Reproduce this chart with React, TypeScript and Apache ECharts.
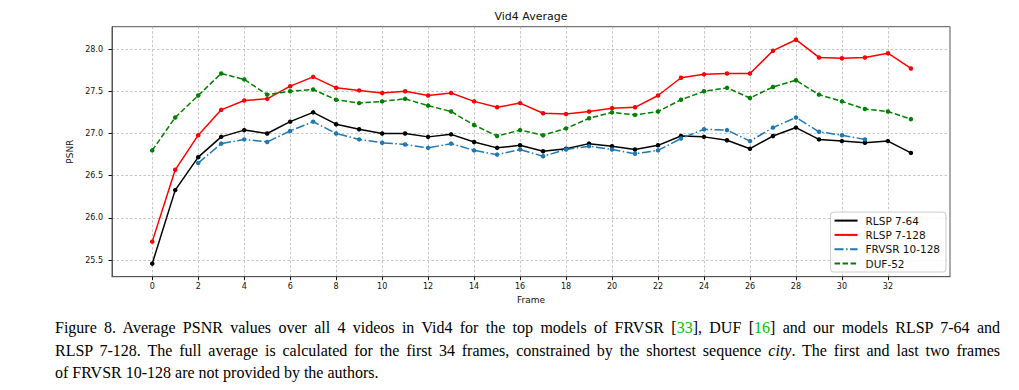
import React, { useEffect, useRef } from "react";
import * as echarts from "echarts";

const frames = [0, 1, 2, 3, 4, 5, 6, 7, 8, 9, 10, 11, 12, 13, 14, 15, 16, 17, 18, 19, 20, 21, 22, 23, 24, 25, 26, 27, 28, 29, 30, 31, 32, 33];

const rlsp764 = [25.46, 26.33, 26.72, 26.96, 27.04, 27.0, 27.14, 27.25, 27.11, 27.05, 27.0, 27.0, 26.96, 26.99, 26.9, 26.83, 26.86, 26.79, 26.82, 26.88, 26.85, 26.81, 26.86, 26.97, 26.96, 26.92, 26.82, 26.97, 27.07, 26.93, 26.91, 26.89, 26.91, 26.77];
const rlsp7128 = [25.72, 26.57, 26.98, 27.28, 27.39, 27.41, 27.56, 27.67, 27.54, 27.51, 27.48, 27.5, 27.45, 27.48, 27.38, 27.31, 27.36, 27.24, 27.23, 27.26, 27.3, 27.31, 27.45, 27.66, 27.7, 27.71, 27.71, 27.98, 28.11, 27.9, 27.89, 27.9, 27.95, 27.77];
const frvsr = [null, null, 26.65, 26.88, 26.93, 26.9, 27.03, 27.14, 27.0, 26.93, 26.89, 26.87, 26.83, 26.88, 26.8, 26.75, 26.81, 26.73, 26.81, 26.85, 26.81, 26.76, 26.8, 26.94, 27.05, 27.04, 26.91, 27.07, 27.19, 27.02, 26.98, 26.93, null, null];
const duf = [26.8, 27.19, 27.45, 27.71, 27.64, 27.46, 27.5, 27.52, 27.4, 27.36, 27.38, 27.41, 27.33, 27.26, 27.1, 26.97, 27.04, 26.98, 27.06, 27.18, 27.25, 27.22, 27.26, 27.4, 27.5, 27.54, 27.42, 27.55, 27.63, 27.46, 27.38, 27.29, 27.26, 27.17];

const xTicks = [0, 2, 4, 6, 8, 10, 12, 14, 16, 18, 20, 22, 24, 26, 28, 30, 32];
const yTicks = [25.5, 26.0, 26.5, 27.0, 27.5, 28.0];

const seriesNames = ["RLSP 7-64", "RLSP 7-128", "FRVSR 10-128", "DUF-52"];

function toPoints(vals: (number | null)[]) {
  const out: [number, number][] = [];
  vals.forEach((v, i) => {
    if (v !== null) out.push([frames[i], v]);
  });
  return out;
}

export default function App() {
  const ref = useRef<HTMLDivElement>(null);
  useEffect(() => {
    document.body.style.margin = "0";
    if (!ref.current) return;
    const chart = echarts.init(ref.current, null, { renderer: "svg" });
    const font = "DejaVu Sans";
    const mk = (name: string, vals: (number | null)[], color: string, dash: any) => ({
      name,
      type: "line",
      data: toPoints(vals),
      symbol: "circle",
      symbolSize: 4.5,
      showSymbol: true,
      itemStyle: { color },
      lineStyle: { color, width: 1.5, type: dash },
      z: 3,
    });
    chart.setOption({
      animation: false,
      textStyle: { fontFamily: font },
      title: {
        text: "Vid4 Average",
        left: 531,
        textAlign: "center",
        top: 11,
        padding: 0,
        textStyle: { fontFamily: font, fontSize: 11, fontWeight: "normal", color: "#111" },
      },
      grid: {
        left: 112,
        right: 69,
        top: 26.7,
        bottom: 113.3,
        show: true,
        borderColor: "#555",
        borderWidth: 1,
      },
      legend: {
        orient: "vertical",
        right: 73,
        bottom: 118,
        padding: [3, 6, 3, 3],
        itemWidth: 23,
        itemHeight: 12,
        itemGap: 3.3,
        backgroundColor: "rgba(255,255,255,0.85)",
        borderColor: "#ccc",
        borderWidth: 1,
        borderRadius: 3,
        itemStyle: { opacity: 0 },
        textStyle: { fontFamily: font, fontSize: 10.5, color: "#111", padding: [0, 0, 0, 3] },
        data: seriesNames,
      },
      xAxis: {
        type: "value",
        min: -1.75,
        max: 34.7,
        name: "Frame",
        nameLocation: "middle",
        nameGap: 18,
        nameTextStyle: { fontFamily: font, fontSize: 9, color: "#111" },
        axisLine: { show: true, onZero: false, lineStyle: { color: "#555", width: 1 } },
        axisTick: { show: true, length: 3.5, customValues: xTicks, lineStyle: { color: "#111" } },
        axisLabel: { customValues: xTicks, fontSize: 8, color: "#111", margin: 5.5, fontFamily: font },
        splitLine: { show: true, lineStyle: { color: "#b8b8b8", width: 0.8, type: [2.5, 2] } },
      },
      yAxis: {
        type: "value",
        min: 25.305,
        max: 28.264,
        name: "PSNR",
        nameLocation: "middle",
        nameRotate: 90,
        nameGap: 32,
        nameTextStyle: { fontFamily: font, fontSize: 9, color: "#111" },
        axisLine: { show: true, onZero: false, lineStyle: { color: "#555", width: 1 } },
        axisTick: { show: true, length: 3.5, customValues: yTicks, lineStyle: { color: "#111" } },
        axisLabel: {
          customValues: yTicks,
          fontSize: 8,
          color: "#111",
          margin: 9,
          fontFamily: font,
          formatter: (v: number) => v.toFixed(1),
        },
        splitLine: { show: true, lineStyle: { color: "#b8b8b8", width: 0.8, type: [2.5, 2] } },
      },
      series: [
        mk(seriesNames[0], rlsp764, "#000000", "solid"),
        mk(seriesNames[1], rlsp7128, "#ff0000", "solid"),
        mk(seriesNames[2], frvsr, "#1f77b4", [9, 2.5, 1.5, 2.5]),
        mk(seriesNames[3], duf, "#008000", [5.5, 2.5]),
      ],
    });
    return () => chart.dispose();
  }, []);

  const lineStyle: React.CSSProperties = {
    position: "absolute",
    left: 55,
    width: 945,
    height: 22,
    lineHeight: "22px",
    fontFamily: "'Liberation Serif', 'Times New Roman', serif",
    fontSize: 16,
    color: "#000",
    whiteSpace: "nowrap",
  };
  const justified: React.CSSProperties = { ...lineStyle, textAlign: "justify", textAlignLast: "justify" } as any;
  const green = { color: "#00c000" };

  return (
    <div style={{ position: "relative", width: 1019, height: 390, background: "#fff" }}>
      <div ref={ref} style={{ position: "absolute", left: 0, top: 0, width: 1019, height: 390 }} />
      <div style={{ ...justified, top: 317 }}>
        Figure 8. Average PSNR values over all 4 videos in Vid4 for the top models of FRVSR [<span style={green}>33</span>], DUF [<span style={green}>16</span>] and our models RLSP 7-64 and
      </div>
      <div style={{ ...justified, top: 339.5 }}>
        RLSP 7-128. The full average is calculated for the first 34 frames, constrained by the shortest sequence <i>city</i>. The first and last two frames
      </div>
      <div style={{ ...lineStyle, top: 362 }}>of FRVSR 10-128 are not provided by the authors.</div>
    </div>
  );
}
